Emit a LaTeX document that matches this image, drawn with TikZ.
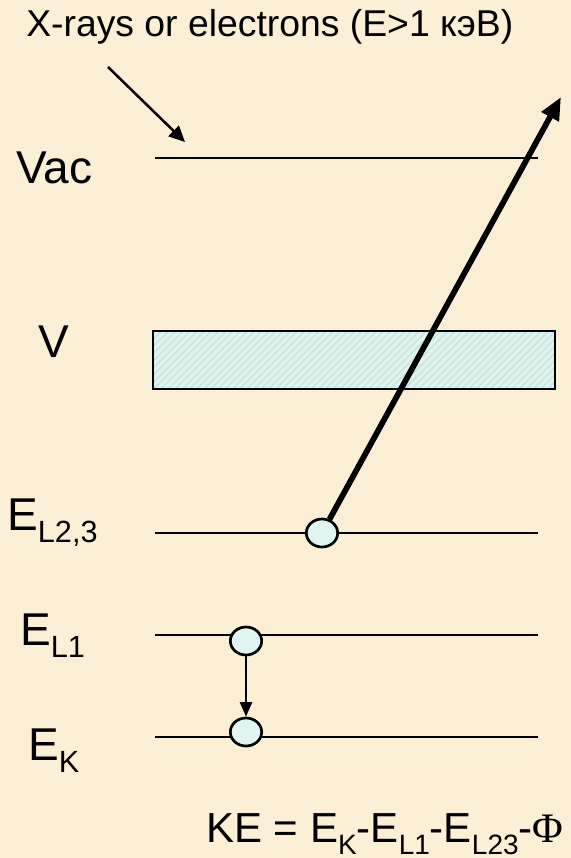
\documentclass[tikz,border=0pt]{standalone}
\usepackage{fontspec}
\setmainfont{Liberation Sans}
\newfontfamily\symbfont{Liberation Serif}
\usetikzlibrary{arrows.meta,shapes.geometric,patterns.meta}

\definecolor{parchment}{RGB}{251,240,214}
\definecolor{slabfill}{RGB}{222,244,238}
\definecolor{hatch}{RGB}{200,222,214}
\definecolor{holefill}{RGB}{224,246,242}

% lowered subscript, PowerPoint style
\newcommand{\lsub}[2][23]{\raisebox{-9pt}{\fontsize{#1}{#1}\selectfont #2}}

\tikzset{
  level/.style={line width=2pt},
  lab/.style={anchor=base west,inner sep=0pt,font=\fontsize{34.5}{40}\selectfont},
  hole/.style={ellipse,draw,line width=2pt,fill=holefill,
    minimum width=23.5pt,minimum height=21pt,inner sep=0pt},
}

\begin{document}
\begin{tikzpicture}[x=0.75pt,y=-0.75pt]
  \fill[parchment] (0,0) rectangle (571,858);
  \useasboundingbox (0,0) rectangle (571,858);

  % incoming beam
  \node[lab,font=\fontsize{28}{32}\selectfont] (beam) at (26,36) {X-rays or electrons (E>1 кэВ)};
  \coordinate (src) at (108,67);
  \coordinate (hit) at (185,142);
  \draw[line width=1.9pt,-{Triangle[length=12pt,width=11pt]}] (src) -- (hit);

  % energy levels
  \foreach \y in {158,533,635,737}
    \draw[level] (155,\y) -- (538,\y);
  \node[lab] (vac) at (16,183) {Vac};
  \node[lab] (v) at (38,357) {V};
  \node[lab] (l23) at (7,530) {E\lsub{L2,3}};
  \node[lab] (l1) at (20,645) {E\lsub{L1}};
  \node[lab] (k) at (28,760) {E\lsub{K}};

  % valence band
  \fill[slabfill] (153,331) rectangle (555,389);
  \fill[pattern={Lines[angle=45,distance=3.8pt,line width=0.8pt]},pattern color=hatch]
    (153,331) rectangle (555,389);
  \draw[line width=2pt] (153,331) rectangle (555,389);

  % holes and transitions
  \node[hole] (h23) at (322,533) {};
  \node[hole] (h1) at (246,641) {};
  \node[hole] (hk) at (246,732) {};
  \coordinate (exit) at (561,97);
  \draw[line width=4.3pt,-{Triangle[length=17pt,width=14pt]}] (h23) -- (exit);
  \draw[line width=1.9pt,-{Triangle[length=11pt,width=9pt]}] (h1) -- (hk);

  \node[lab,font=\fontsize{31.5}{36}\selectfont] (ke) at (206,842)
    {KE = E\lsub[21]{K}-E\lsub[21]{L1}-E\lsub[21]{L23}-{\symbfont Φ}};
\end{tikzpicture}
\end{document}
